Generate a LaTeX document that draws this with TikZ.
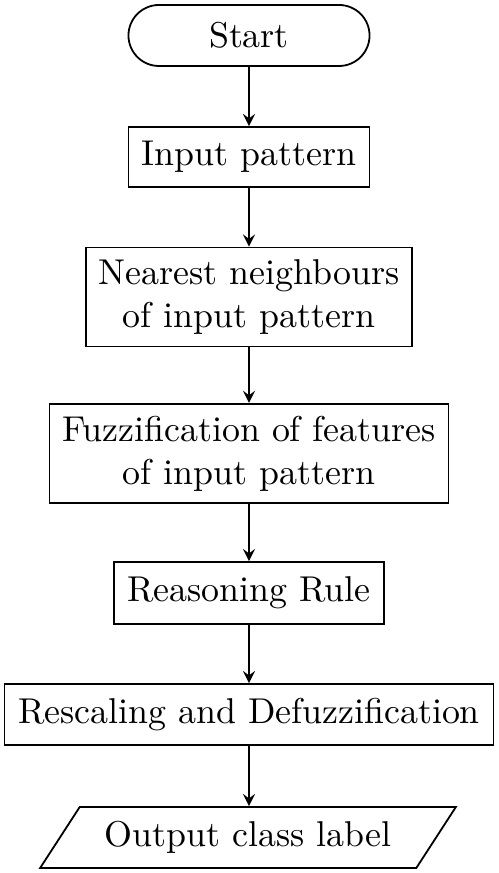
\documentclass[tikz,border=0pt]{standalone}
\usepackage{tikz}
\usetikzlibrary{shapes,arrows,positioning}
\newcommand{\pxu}{0.2786pt}
\tikzstyle{inicio} = [draw, rounded rectangle, line width=0.5pt, minimum width=265*\pxu, minimum height=61*\pxu]
\tikzstyle{proceso} = [draw, rectangle, line width=0.5pt, align=center]
\tikzstyle{salida} = [draw, trapezium, trapezium left angle=57, trapezium right angle=123, trapezium stretches=true, line width=0.5pt, minimum width=416*\pxu, minimum height=61*\pxu]
\tikzstyle{flecha} = [draw, -stealth, line width=0.5pt]

\begin{document}
\begin{tikzpicture}[x=\pxu, y=-\pxu]
	\useasboundingbox (0,0) rectangle (498,873);
	\node [inicio] (start) at (249,35.5) {Start};
	\node [proceso, minimum width=241*\pxu, minimum height=60*\pxu] (input) at (249,157) {Input pattern};
	\node [proceso, minimum width=326*\pxu, minimum height=94*\pxu] (nearest) at (249,297) {Nearest neighbours\\of input pattern};
	\node [proceso, minimum width=399*\pxu, minimum height=93*\pxu] (fuzz) at (249,453.5) {Fuzzification of features\\of input pattern};
	\node [proceso, minimum width=270*\pxu, minimum height=62*\pxu] (rule) at (249,593) {Reasoning Rule};
	\node [proceso, minimum width=489*\pxu, minimum height=61*\pxu] (defuzz) at (249,714.5) {Rescaling and Defuzzification};
	\node [salida] (output) at (248,837.5) {Output class label};
	% conexiones
	\draw [flecha] (start) -- (input);
	\draw [flecha] (input) -- (nearest);
	\draw [flecha] (nearest) -- (fuzz);
	\draw [flecha] (fuzz) -- (rule);
	\draw [flecha] (rule) -- (defuzz);
	\draw [flecha] (defuzz.south) -- (defuzz.south |- output.north);
\end{tikzpicture}
\end{document}
